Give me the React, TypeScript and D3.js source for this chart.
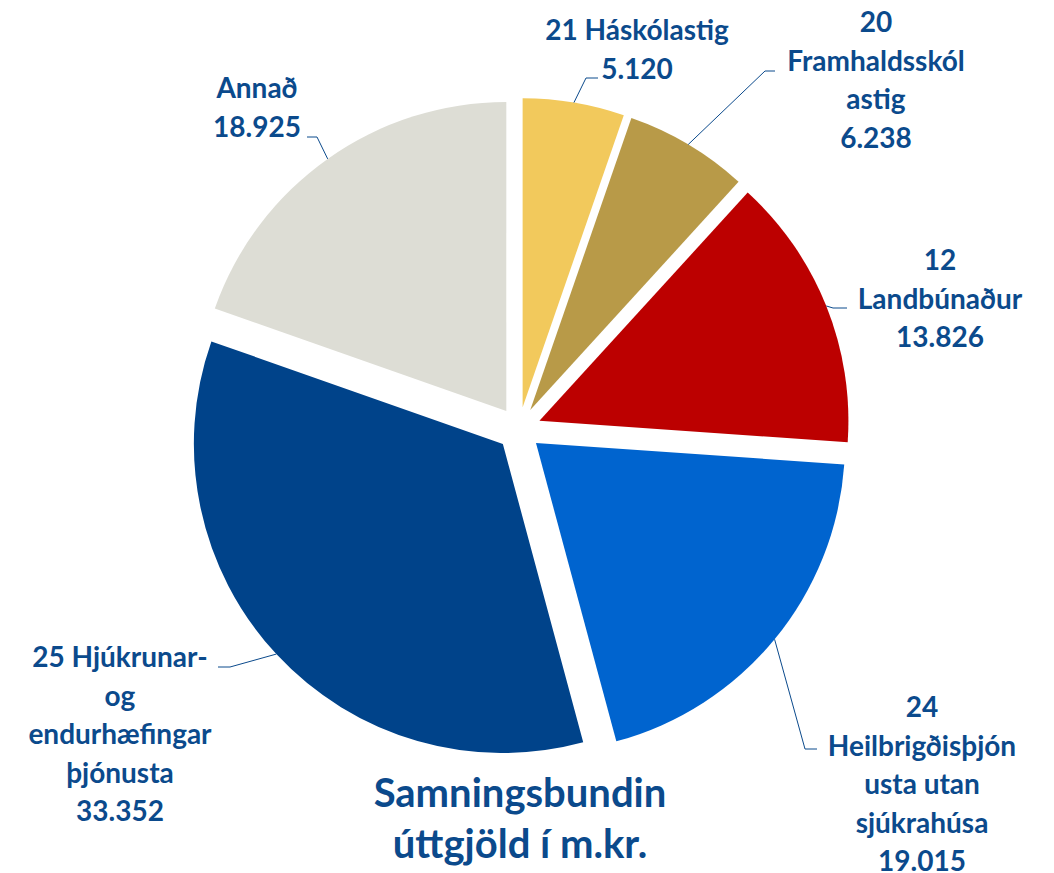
import React, { useEffect, useRef } from "react";
import * as d3 from "d3";

// slices, clockwise from 12 o'clock
const codes = ["21", "20", "12", "24", "25", ""];
const names = [
  ["Háskólastig"],
  ["Framhaldsskól", "astig"],
  ["Landbúnaður"],
  ["Heilbrigðisþjón", "usta utan", "sjúkrahúsa"],
  ["Hjúkrunar-", "og", "endurhæfingar", "þjónusta"],
  ["Annað"],
];
const values = [5120, 6238, 13826, 19015, 33352, 18925];
const colors = ["#F2C95C", "#B89A48", "#BC0000", "#0064CF", "#00438A", "#DDDDD5"];
const title = ["Samningsbundin", "úttgjöld í m.kr."];

// where each label sits: text centre x, first baseline y, leader elbow and end
const labelPos = [
  { x: 637, y: 40, elbow: [586, 78], end: [598, 78] },
  { x: 876, y: 32, elbow: [765, 71], end: [775, 71] },
  { x: 940, y: 270, elbow: [833, 308], end: [847, 308] },
  { x: 922, y: 717, elbow: [805, 749], end: [817, 749] },
  { x: 120, y: 667, elbow: [230, 667], end: [218, 667] },
  { x: 257, y: 98, elbow: [317, 137], end: [307, 137] },
];

const App = () => {
  const svgRef = useRef(null);

  useEffect(() => {
    document.body.style.margin = "0";
    const w = 1054;
    const h = 873;
    const cx = 519;
    const cy = 429;
    const r = 309;
    const explode = 22;
    const textColor = "#0B4A8C";
    const lh = 38.5;

    const svg = d3.select(svgRef.current).attr("width", w).attr("height", h);
    svg.selectAll("*").remove();

    const fmt = d3.formatLocale({ decimal: ",", thousands: ".", grouping: [3], currency: ["", " kr"] }).format(",");

    const pie = d3.pie().sort(null).value((d) => d).startAngle(0).endAngle(2 * Math.PI);
    const arcs = pie(values);
    const arc = d3.arc().innerRadius(0).outerRadius(r);

    const g = svg.append("g").attr("transform", `translate(${cx},${cy})`);

    const offset = (d) => {
      const a = (d.startAngle + d.endAngle) / 2;
      return [Math.sin(a) * explode, -Math.cos(a) * explode];
    };

    g.selectAll(".slice")
      .data(arcs)
      .join("path")
      .attr("class", "slice")
      .attr("transform", (d) => `translate(${offset(d)[0]},${offset(d)[1]})`)
      .attr("d", arc)
      .attr("fill", (d, i) => colors[i]);

    // leader lines from the middle of each outer arc
    svg.selectAll(".leader")
      .data(arcs)
      .join("polyline")
      .attr("class", "leader")
      .attr("points", (d, i) => {
        const a = (d.startAngle + d.endAngle) / 2;
        const o = offset(d);
        const sx = cx + o[0] + Math.sin(a) * r;
        const sy = cy + o[1] - Math.cos(a) * r;
        const p = labelPos[i];
        return `${sx},${sy} ${p.elbow[0]},${p.elbow[1]} ${p.end[0]},${p.end[1]}`;
      })
      .attr("fill", "none")
      .attr("stroke", textColor)
      .attr("stroke-width", 1);

    // labels: code line, name lines, value
    arcs.forEach((d, i) => {
      let lines = [];
      const first = names[i][0];
      if (!codes[i]) lines = names[i].slice();
      else if (first.length > 11 || i === 2) lines = [codes[i], ...names[i]];
      else lines = [codes[i] + " " + first, ...names[i].slice(1)];
      lines.push(fmt(values[i]));

      const t = svg.append("text")
        .attr("text-anchor", "middle")
        .attr("font-family", "Lato, 'Open Sans', sans-serif")
        .attr("font-weight", "bold")
        .attr("font-size", 28)
        .attr("fill", textColor);
      t.selectAll("tspan")
        .data(lines)
        .join("tspan")
        .attr("x", labelPos[i].x)
        .attr("y", (l, j) => labelPos[i].y + j * lh)
        .text((l) => l);
    });

    // title
    svg.append("text")
      .attr("text-anchor", "middle")
      .attr("font-family", "Lato, 'Open Sans', sans-serif")
      .attr("font-weight", "bold")
      .attr("font-size", 40)
      .attr("fill", textColor)
      .selectAll("tspan")
      .data(title)
      .join("tspan")
      .attr("x", 520)
      .attr("y", (l, j) => 807 + j * 51)
      .text((l) => l);
  }, []);

  return <svg ref={svgRef} style={{ display: "block" }}></svg>;
};

export default App;
